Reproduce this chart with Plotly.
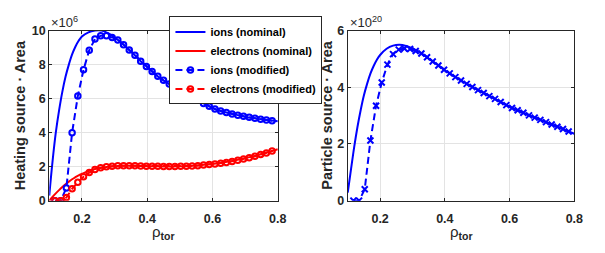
import plotly.graph_objects as go

# ---------------- data ----------------
# nominal curves (solid lines)
rho_nom = [0.10, 0.11, 0.12, 0.13, 0.14, 0.15, 0.16, 0.17, 0.18, 0.19, 0.20,
           0.22, 0.24, 0.26, 0.28, 0.30, 0.32, 0.34, 0.36, 0.38, 0.40,
           0.42, 0.44, 0.46, 0.48, 0.50, 0.52, 0.54, 0.56, 0.58, 0.60,
           0.62, 0.64, 0.66, 0.68, 0.70, 0.72, 0.74, 0.76, 0.78, 0.80]
# heating source * area, units of 1e6
ions_nom = [0.3, 2.3, 4.0, 5.3, 6.4, 7.3, 8.0, 8.6, 9.05, 9.4, 9.65,
            9.9, 10.0, 10.0, 9.85, 9.6, 9.3, 8.95, 8.6, 8.2, 7.85,
            7.5, 7.2, 6.95, 6.7, 6.5, 6.25, 6.05, 5.85, 5.65, 5.45,
            5.3, 5.2, 5.1, 5.02, 4.94, 4.87, 4.81, 4.76, 4.71, 4.67]
elec_nom = [0.0, 0.22, 0.43, 0.62, 0.8, 0.97, 1.12, 1.26, 1.38, 1.49, 1.58,
            1.74, 1.86, 1.94, 2.0, 2.03, 2.05, 2.05, 2.05, 2.04, 2.03,
            2.02, 2.02, 2.01, 2.01, 2.02, 2.03, 2.05, 2.08, 2.12, 2.16,
            2.21, 2.27, 2.34, 2.42, 2.5, 2.59, 2.69, 2.8, 2.91, 3.02]
# particle source * area, units of 1e20
part_nom = [0.28, 1.1, 1.9, 2.6, 3.2, 3.72, 4.13, 4.48, 4.75, 4.97, 5.14,
            5.36, 5.47, 5.5, 5.46, 5.37, 5.25, 5.1, 4.93, 4.77, 4.6,
            4.45, 4.31, 4.17, 4.04, 3.92, 3.8, 3.68, 3.56, 3.43, 3.31,
            3.21, 3.11, 3.01, 2.92, 2.83, 2.73, 2.64, 2.55, 2.45, 2.36]

# modified curves (markers)
rho_mod = [0.1175, 0.135, 0.1525, 0.17, 0.1875, 0.205, 0.2225, 0.24, 0.2575, 0.275,
           0.2925, 0.31, 0.3275, 0.345, 0.3625, 0.38, 0.3975, 0.415, 0.4325, 0.45,
           0.4675, 0.485, 0.5025, 0.52, 0.5375, 0.555, 0.5725, 0.59, 0.6075, 0.625,
           0.6425, 0.66, 0.6775, 0.695, 0.7125, 0.73, 0.7475, 0.765, 0.7825]
ions_mod = [0.0, 0.0, 0.75, 4.0, 6.15, 7.7, 8.85, 9.5, 9.7, 9.7,
            9.6, 9.45, 9.17, 8.86, 8.55, 8.2, 7.89, 7.59, 7.31, 7.08,
            6.86, 6.65, 6.47, 6.25, 6.08, 5.9, 5.72, 5.55, 5.39, 5.28,
            5.19, 5.1, 5.03, 4.96, 4.9, 4.84, 4.79, 4.75, 4.7]
elec_mod = [0.0, 0.0, 0.18, 0.7, 1.08, 1.4, 1.65, 1.83, 1.93, 2.0,
            2.03, 2.05, 2.05, 2.05, 2.05, 2.04, 2.03, 2.02, 2.02, 2.01,
            2.01, 2.01, 2.02, 2.03, 2.04, 2.06, 2.09, 2.12, 2.16, 2.2,
            2.25, 2.31, 2.38, 2.45, 2.53, 2.61, 2.71, 2.81, 2.92]
part_mod = [0.0, 0.0, 0.4, 2.12, 3.35, 4.17, 4.8, 5.17, 5.33, 5.37,
            5.35, 5.28, 5.19, 5.06, 4.91, 4.77, 4.62, 4.49, 4.36, 4.24,
            4.12, 4.01, 3.9, 3.8, 3.69, 3.59, 3.48, 3.37, 3.27, 3.19,
            3.1, 3.01, 2.93, 2.85, 2.77, 2.69, 2.61, 2.53, 2.44]

x_ticks = [0.2, 0.4, 0.6, 0.8]
heat_ticks = [0, 2, 4, 6, 8, 10]
part_ticks = [0, 2, 4, 6]

# ---------------- figure ----------------
W, H = 605, 253
FONT = "Liberation Sans, Arial, Helvetica, sans-serif"
AX = "#262626"
GRID = "#e3e3e3"
BLUE = "rgb(0,0,255)"
RED = "rgb(255,0,0)"
DASH = "7px,4px"
MSIZE = 5.5

fig = go.Figure()

fig.add_trace(go.Scatter(x=rho_nom, y=ions_nom, mode="lines", name="<b>ions (nominal)</b>",
                         line=dict(color=BLUE, width=2, shape="spline"), xaxis="x", yaxis="y"))
fig.add_trace(go.Scatter(x=rho_nom, y=elec_nom, mode="lines", name="<b>electrons (nominal)</b>",
                         line=dict(color=RED, width=2, shape="spline"), xaxis="x", yaxis="y"))
fig.add_trace(go.Scatter(x=rho_mod, y=ions_mod, mode="lines+markers", name="<b>ions (modified)</b>",
                         line=dict(color=BLUE, width=2, dash=DASH),
                         marker=dict(symbol="circle-open", size=MSIZE, color=BLUE, line=dict(width=2)),
                         xaxis="x", yaxis="y"))
fig.add_trace(go.Scatter(x=rho_mod, y=elec_mod, mode="lines+markers", name="<b>electrons (modified)</b>",
                         line=dict(color=RED, width=2, dash=DASH),
                         marker=dict(symbol="circle-open", size=MSIZE, color=RED, line=dict(width=2)),
                         xaxis="x", yaxis="y"))

fig.add_trace(go.Scatter(x=rho_nom, y=part_nom, mode="lines", showlegend=False,
                         line=dict(color=BLUE, width=2, shape="spline"), xaxis="x2", yaxis="y2"))
fig.add_trace(go.Scatter(x=rho_mod, y=part_mod, mode="lines+markers", showlegend=False,
                         line=dict(color=BLUE, width=2, dash=DASH),
                         marker=dict(symbol="x-thin-open", size=6, color=BLUE, line=dict(width=2, color=BLUE)),
                         xaxis="x2", yaxis="y2"))

dom_y = [48 / H, 228 / H]
dom_x1 = [50 / W, 282 / W]
dom_x2 = [353 / W, 583 / W]

axis_common = dict(showline=True, linecolor=AX, linewidth=1, mirror="ticks",
                   ticks="inside", ticklen=3, tickcolor=AX, tickwidth=1,
                   showgrid=True, gridcolor=GRID, gridwidth=1, zeroline=False,
                   tickfont=dict(family=FONT, size=12.5, color=AX, weight="bold"))

fig.update_layout(
    width=W, height=H,
    margin=dict(l=0, r=0, t=0, b=0),
    paper_bgcolor="white", plot_bgcolor="white",
    font=dict(family=FONT, color=AX),
    hovermode=False,
    xaxis=dict(domain=dom_x1, range=[0.1, 0.8], tickvals=x_ticks, ticktext=[f"{v:.1f}" for v in x_ticks],
               anchor="y", ticklabelstandoff=6, **axis_common),
    yaxis=dict(domain=dom_y, range=[0, 10], tickvals=heat_ticks, anchor="x", **axis_common),
    xaxis2=dict(domain=dom_x2, range=[0.1, 0.8], tickvals=x_ticks, ticktext=[f"{v:.1f}" for v in x_ticks],
                anchor="y2", ticklabelstandoff=6, **axis_common),
    yaxis2=dict(domain=dom_y, range=[0, 6], tickvals=part_ticks, anchor="x2", **axis_common),
    legend=dict(x=172 / W, y=1 - 10 / H, xanchor="left", yanchor="top",
                bgcolor="white", bordercolor=AX, borderwidth=1,
                font=dict(family=FONT, size=11, color="black"),
                tracegroupgap=0, itemwidth=30),
    showlegend=True,
)

ann = []
# exponent labels
ann.append(dict(text="×10<sup>6</sup>", x=51 / W, y=1 - 25 / H, xref="paper", yref="paper",
                xanchor="left", yanchor="bottom", showarrow=False, borderpad=0,
                font=dict(family=FONT, size=13, color=AX)))
ann.append(dict(text="×10<sup>20</sup>", x=354 / W, y=1 - 25 / H, xref="paper", yref="paper",
                xanchor="left", yanchor="bottom", showarrow=False, borderpad=0,
                font=dict(family=FONT, size=13, color=AX)))
# y axis titles
ann.append(dict(text="<b>Heating source · Area</b>", x=20 / W, y=1 - 115 / H, xref="paper", yref="paper",
                xanchor="center", yanchor="middle", textangle=-90, showarrow=False,
                font=dict(family=FONT, size=14.5, color=AX)))
ann.append(dict(text="<b>Particle source · Area</b>", x=332 / W, y=1 - 115 / H, xref="paper", yref="paper",
                xanchor="center", yanchor="middle", textangle=-90, showarrow=False,
                font=dict(family=FONT, size=14.5, color=AX)))
# x axis titles
for cx in [(50 + 282) / 2, (353 + 583) / 2]:
    ann.append(dict(text="ρ<sub><b>tor</b></sub>",
                    x=cx / W, y=1 - 228 / H, xref="paper", yref="paper",
                    xanchor="center", yanchor="top", showarrow=False, borderpad=0,
                    font=dict(family=FONT, size=15, color=AX)))
fig.update_layout(annotations=ann)

fig.write_html("out.html", config={"displayModeBar": False, "staticPlot": True},
               post_script="document.body.style.margin='0px';")
